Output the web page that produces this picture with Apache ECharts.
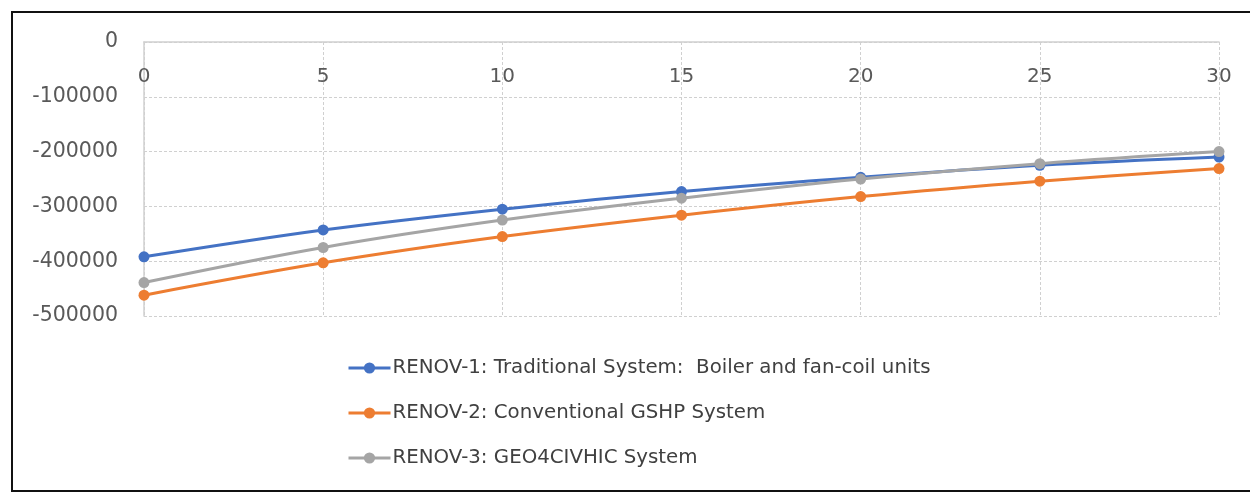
<!DOCTYPE html>
<html>
<head>
<meta charset="utf-8">
<script src="https://cdn.jsdelivr.net/npm/echarts@6/dist/echarts.min.js"></script>
<style>
html,body{margin:0;padding:0;background:#fff;}
#chart{width:1250px;height:492px;}
</style>
</head>
<body>
<div id="chart"></div>
<script>
const years = [0, 5, 10, 15, 20, 25, 30];
const seriesNames = [
  'RENOV-1: Traditional System:  Boiler and fan-coil units',
  'RENOV-2: Conventional GSHP System',
  'RENOV-3: GEO4CIVHIC System'
];
const renov1 = [-392000, -343000, -305000, -273000, -247000, -225000, -210000];
const renov2 = [-462000, -403000, -355000, -316000, -282000, -254000, -231000];
const renov3 = [-439000, -375000, -325000, -285000, -250000, -222000, -200000];
const colors = ['#4472C4', '#ED7D31', '#A5A5A5'];
const yTicks = { min: -500000, max: 0, interval: 100000 };
const xTicks = { min: 0, max: 30, interval: 5 };

const font = 'DejaVu Sans';
const values = [renov1, renov2, renov3];

const chart = echarts.init(document.getElementById('chart'), null, { renderer: 'canvas' });
chart.setOption({
  backgroundColor: '#fff',
  animation: false,
  textStyle: { fontFamily: font },
  graphic: [{
    type: 'rect',
    shape: { x: 12, y: 12, width: 1245, height: 479 },
    style: { fill: 'none', stroke: '#111', lineWidth: 2 },
    silent: true
  }],
  grid: { left: 144, right: 31, top: 42, bottom: 176 },
  xAxis: {
    type: 'value',
    position: 'top',
    min: xTicks.min, max: xTicks.max, interval: xTicks.interval,
    axisLine: { show: true, onZero: false, lineStyle: { color: '#d0d0d0', width: 1.5 } },
    axisTick: { show: false },
    axisLabel: { inside: true, margin: 25, color: '#595959', fontSize: 20, fontFamily: font },
    splitLine: { show: true, lineStyle: { color: '#d0d0d0', type: [3, 2], width: 1 } }
  },
  yAxis: {
    type: 'value',
    min: yTicks.min, max: yTicks.max, interval: yTicks.interval,
    axisLine: { show: true, lineStyle: { color: '#d0d0d0', width: 1.5 } },
    axisTick: { show: false },
    axisLabel: { margin: 26, color: '#595959', fontSize: 20.5, fontFamily: font, formatter: v => String(v) },
    splitLine: { show: true, lineStyle: { color: '#d0d0d0', type: [3, 2], width: 1 } }
  },
  legend: {
    orient: 'vertical',
    left: 342,
    top: 353,
    itemWidth: 42,
    itemHeight: 14,
    itemGap: 25,
    lineStyle: { width: 3 },
    textStyle: { fontSize: 19.8, color: '#404040', fontFamily: font, padding: [0, 0, 0, -3] },
    data: seriesNames
  },
  series: values.map((v, i) => ({
    name: seriesNames[i],
    type: 'line',
    smooth: 0.35,
    data: years.map((x, j) => [x, v[j]]),
    symbol: 'circle',
    symbolSize: 11,
    z: i === 2 ? 3 : (i === 0 ? 2 : 1),
    itemStyle: { color: colors[i] },
    lineStyle: { color: colors[i], width: 3 }
  }))
});
</script>
</body>
</html>
